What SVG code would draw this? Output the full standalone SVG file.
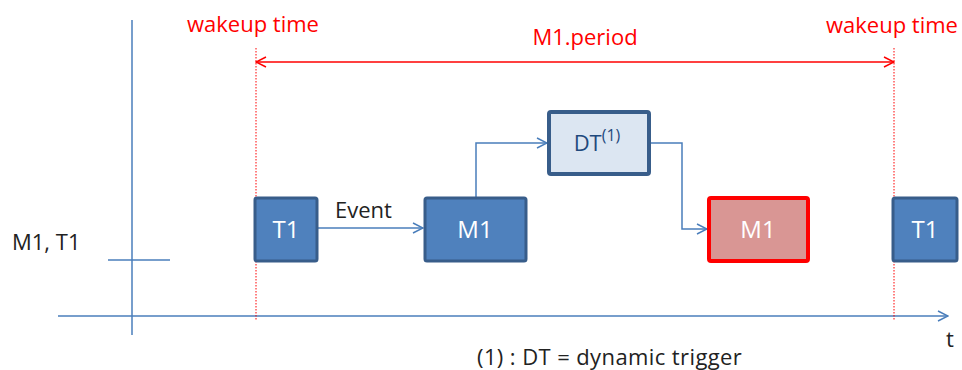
<svg xmlns="http://www.w3.org/2000/svg" width="962" height="370" viewBox="0 0 962 370">
  <style>
    .lbl { font-family: "Open Sans", "Liberation Sans", sans-serif; font-size: 22px; }
    .red { fill: #ff0000; }
    .dark { fill: #222222; }
    .task { fill: #4f81bd; stroke: #385d8a; stroke-width: 3; }
    .inner { fill: #ffffff; text-anchor: middle; font-size: 24px; }
    .conn { fill: none; stroke: #4a7ebb; stroke-width: 1.5; }
    .mark { stroke: #ff0000; stroke-width: 1; stroke-dasharray: 1.5 1.5; }
  </style>
  <defs>
    <marker id="blueHead" viewBox="0 0 12 12" refX="11" refY="6" markerWidth="12" markerHeight="12" markerUnits="userSpaceOnUse" orient="auto">
      <path d="M1,1 L11,6 L1,11" fill="none" stroke="#4a7ebb" stroke-width="1.5"/>
    </marker>
    <marker id="redHead" viewBox="0 0 12 12" refX="11" refY="6" markerWidth="12" markerHeight="12" markerUnits="userSpaceOnUse" orient="auto-start-reverse">
      <path d="M1,1 L11,6 L1,11" fill="none" stroke="#ff0000" stroke-width="1.5"/>
    </marker>
  </defs>
  <rect width="962" height="370" fill="#ffffff"/>

  <!-- time axes -->
  <g id="axes">
    <line x1="132" y1="20" x2="132" y2="335" class="conn"/>
    <line x1="58" y1="316" x2="948" y2="316" class="conn" marker-end="url(#blueHead)"/>
    <line x1="108" y1="260" x2="170" y2="260" class="conn"/>
    <text x="12" y="250" class="lbl dark">M1, T1</text>
    <text x="946" y="347" class="lbl dark">t</text>
  </g>

  <!-- wakeup markers and period -->
  <g id="period">
    <line x1="256" y1="48" x2="256" y2="320" class="mark"/>
    <line x1="894" y1="48" x2="894" y2="320" class="mark"/>
    <line x1="256" y1="62" x2="894" y2="62" stroke="#ff0000" stroke-width="1.5" marker-start="url(#redHead)" marker-end="url(#redHead)"/>
    <text x="187" y="32" class="lbl red">wakeup time</text>
    <text x="826" y="33" class="lbl red">wakeup time</text>
    <text x="585" y="45" class="lbl red" text-anchor="middle">M1.period</text>
  </g>

  <!-- connectors -->
  <g id="connectors">
    <line x1="318" y1="228" x2="423" y2="228" class="conn" marker-end="url(#blueHead)"/>
    <polyline points="476,197 476,143 547,143" class="conn" marker-end="url(#blueHead)"/>
    <polyline points="651,143 682,143 682,229 707,229" class="conn" marker-end="url(#blueHead)"/>
    <text x="335" y="218" class="lbl dark">Event</text>
  </g>

  <g id="t1-start">
    <rect x="255" y="198" width="62" height="63" rx="2" class="task"/>
    <text x="286" y="238" class="lbl inner">T1</text>
  </g>

  <g id="m1-first">
    <rect x="425" y="198" width="101" height="63" rx="2" class="task"/>
    <text x="475" y="238" class="lbl inner">M1</text>
  </g>

  <g id="dt">
    <rect x="549" y="112" width="100" height="62" rx="2" fill="#dce6f2" stroke="#385d8a" stroke-width="4"/>
    <text x="597" y="151" class="lbl" fill="#1f497d" text-anchor="middle" font-size="24">DT<tspan font-size="16" dy="-10">(1)</tspan></text>
  </g>

  <g id="m1-second">
    <rect x="709" y="198" width="99" height="63" rx="2" fill="#d99694" stroke="#ff0000" stroke-width="4"/>
    <text x="758" y="238" class="lbl inner">M1</text>
  </g>

  <g id="t1-next">
    <rect x="893" y="198" width="64" height="63" rx="2" class="task"/>
    <text x="925" y="238" class="lbl inner">T1</text>
  </g>

  <text x="477" y="365" class="lbl dark" letter-spacing="0.4">(1) : DT = dynamic trigger</text>
</svg>
